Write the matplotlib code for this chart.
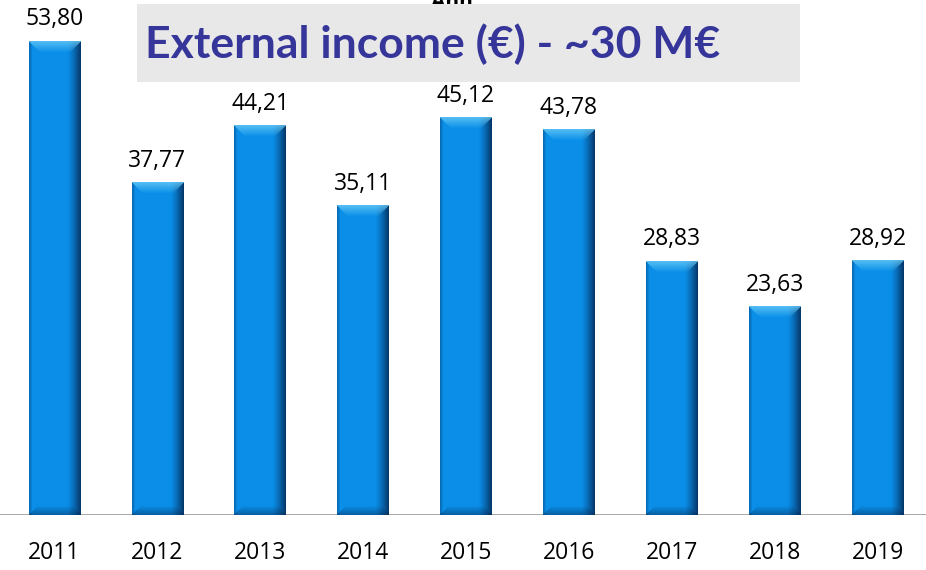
import numpy as np
import matplotlib.pyplot as plt

years = ['2011', '2012', '2013', '2014', '2015', '2016', '2017', '2018', '2019']
values = [53.80, 37.77, 44.21, 35.11, 45.12, 43.78, 28.83, 23.63, 28.92]
labels = ['53,80', '37,77', '44,21', '35,11', '45,12', '43,78', '28,83', '23,63', '28,92']

plt.rcParams['font.family'] = ['Open Sans', 'DejaVu Sans']

fig = plt.figure(figsize=(9.26, 5.70), dpi=100)
ax = fig.add_axes([0, 55 / 570, 1, 515 / 570])

px_per_unit = 8.81
ymax = 515 / px_per_unit
bar_w = 0.5


def bar_image(h_units):
    # shaded "3D" bar face built pixel by pixel
    W = 51
    H = max(int(round(h_units * px_per_unit)), 20)
    base = np.array([0.04, 0.56, 0.91])
    dark = np.array([0.02, 0.16, 0.33])
    light = np.array([0.42, 0.80, 0.97])
    img = np.tile(base, (H, W, 1))
    xs = np.arange(W)
    # right side darkening, left edge slight shade
    right = np.clip((xs - (W - 14)) / 13.0, 0, 1) ** 1.3
    left = np.clip((3 - xs) / 3.0, 0, 1) * 0.35
    f = np.maximum(right * 0.85, left)
    img = img * (1 - f[None, :, None]) + dark * f[None, :, None]
    # top bevel
    for r in range(min(11, H)):
        a = 0.75 * (1 - r / 11.0)
        sl = slice(r, W - r)
        img[r, sl] = img[r, sl] * (1 - a) + light * a
    # bottom bevel
    for r in range(min(9, H)):
        a = 0.45 * (1 - r / 9.0)
        row = H - 1 - r
        sl = slice(r, W - r)
        img[row, sl] = img[row, sl] * (1 - a) + dark * a
    return img


for i, v in enumerate(values):
    ax.imshow(bar_image(v), extent=(i - bar_w / 2, i + bar_w / 2, 0, v),
              aspect='auto', interpolation='bilinear', zorder=2)
    ax.text(i, v + 1.1, labels[i], ha='center', va='bottom', fontsize=16.5,
            color='black', zorder=3)

ax.axhline(0, color='#a0a0a0', lw=2, zorder=1)
shift = 3 / 103
ax.set_xlim(-0.5 - shift, len(years) - 0.5 - shift)
ax.set_ylim(0, ymax)
ax.set_xticks(range(len(years)))
ax.set_xticklabels(years, fontsize=16.5)
ax.tick_params(axis='x', length=0, pad=19)
ax.set_yticks([])
for s in ax.spines.values():
    s.set_visible(False)

# header partly covered by the title box
fig.text(452 / 926, 1 + 8 / 570, 'Ann', ha='center', va='top', fontsize=15,
         fontweight='bold', color='black', zorder=5)
box = plt.Rectangle((137 / 926, 1 - 82 / 570), (800 - 137) / 926, 78 / 570,
                    transform=fig.transFigure, facecolor='#e8e8e8',
                    edgecolor='none', zorder=6)
fig.add_artist(box)
fig.text(145 / 926, 1 - 44 / 570, 'External income (€) - ~30 M€',
         ha='left', va='center', fontsize=32, fontweight='bold',
         family=['Lato', 'DejaVu Sans'], color='#35359a', zorder=7)

fig.savefig('out.png', dpi=100)
